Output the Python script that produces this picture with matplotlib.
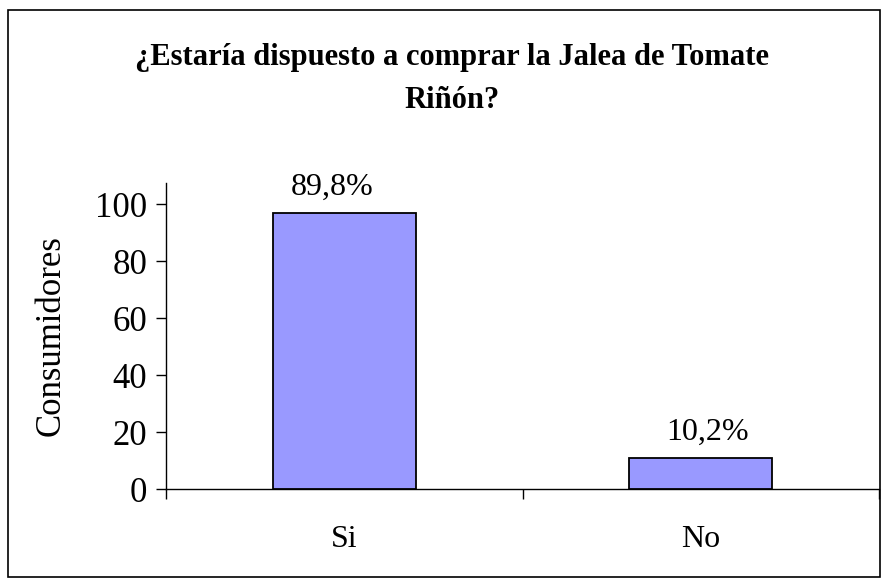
import matplotlib
matplotlib.use("Agg")
import matplotlib.pyplot as plt
from matplotlib.patches import Rectangle

# Data
categories = ["Si", "No"]
consumers = [97, 11]
pct_labels = ["89,8%", "10,2%"]
yticks = [0, 20, 40, 60, 80, 100]

plt.rcParams["font.family"] = ["Liberation Serif", "DejaVu Serif"]

W, H = 882, 578
fig = plt.figure(figsize=(W / 100, H / 100), dpi=100)
fig.patch.set_facecolor("white")

# outer chart border
fig.patches.append(Rectangle((8 / W, 1 - 577 / H), (880 - 8) / W, (577 - 10) / H,
                             transform=fig.transFigure, fill=False,
                             edgecolor="black", linewidth=1.2))

ax = fig.add_axes([166 / W, 1 - 489 / H, (879 - 166) / W, (489 - 183) / H])

x = list(range(len(categories)))
ax.bar(x, consumers, width=0.4, color="#9999FF", edgecolor="black", linewidth=1.3, zorder=3)

# label offsets (points) as placed in the original
label_dx = [-9, 5]
for xi, v, lab, dx in zip(x, consumers, pct_labels, label_dx):
    ax.annotate(lab, (xi, v), xytext=(dx, 8), textcoords="offset points",
                ha="center", va="bottom", fontsize=23)

ax.set_xlim(-0.5, 1.5)
ax.set_ylim(0, 107.5)
ax.set_yticks(yticks)
ax.tick_params(axis="y", labelsize=25, direction="out", length=7.5, width=1, pad=6)

# category labels under bars, ticks at category boundaries
ax.set_xticks([-0.5, 0.5, 1.5])
ax.set_xticklabels([])
ax.tick_params(axis="x", direction="out", length=7.5, width=1)
ax.set_xticks(x, minor=True)
ax.set_xticklabels(categories, minor=True, fontsize=23)
ax.tick_params(axis="x", which="minor", length=0, pad=26)

ax.set_ylabel("Consumidores", fontsize=25, labelpad=20)

for s in ["top", "right"]:
    ax.spines[s].set_visible(False)
ax.spines["left"].set_linewidth(1)
ax.spines["bottom"].set_linewidth(1)

fig.text(452 / W, 1 - 57 / H, "¿Estaría dispuesto a comprar la Jalea de Tomate",
         ha="center", va="center", fontsize=22, fontweight="bold")
fig.text(452 / W, 1 - 100 / H, "Riñón?",
         ha="center", va="center", fontsize=22, fontweight="bold")

fig.savefig("out.png", dpi=100)
